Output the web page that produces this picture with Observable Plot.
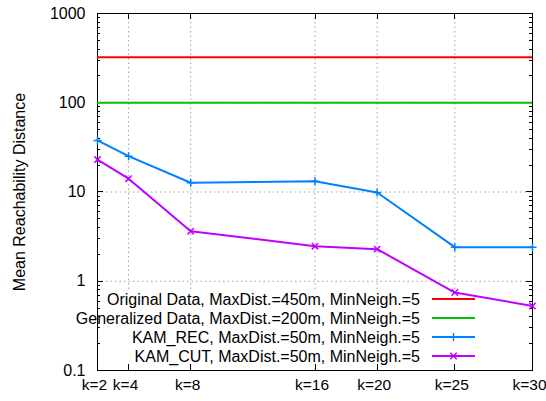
<!DOCTYPE html>
<html><head><meta charset="utf-8">
<script src="https://cdn.jsdelivr.net/npm/d3@7"></script>
<script src="https://cdn.jsdelivr.net/npm/@observablehq/plot@0.6"></script>
<style>body{margin:0;background:#fff}</style>
</head><body><div id="chart"></div>
<script>
const kValues = [2, 4, 8, 16, 20, 25, 30];
const kLabels = ["k=2", "k=4", "k=8", "k=16", "k=20", "k=25", "k=30"];
const originalValue = 324;
const generalizedValue = 100;
const kamRec = [37.8, 25.2, 12.7, 13.2, 9.87, 2.41, 2.41];
const kamCut = [23.1, 14.1, 3.64, 2.47, 2.29, 0.748, 0.528];
const yTicks = [0.1, 1, 10, 100, 1000];
const yTickLabels = ["0.1", "1", "10", "100", "1000"];
const yTitle = "Mean Reachability Distance";
const seriesNames = [
  "Original Data, MaxDist.=450m, MinNeigh.=5",
  "Generalized Data, MaxDist.=200m, MinNeigh.=5",
  "KAM_REC, MaxDist.=50m, MinNeigh.=5",
  "KAM_CUT, MaxDist.=50m, MinNeigh.=5"
];
const seriesColors = ["#ff0000", "#00c000", "#0080ff", "#c000ff"];
const seriesMarkers = [null, null, "plus", "times"];

const FONT = "'Liberation Sans', Arial, Helvetica, sans-serif";
const idx = d3.range(kValues.length);

const plusSymbol = {draw(ctx, size) { const r = Math.sqrt(size / Math.PI); ctx.moveTo(-r, 0); ctx.lineTo(r, 0); ctx.moveTo(0, -r); ctx.lineTo(0, r); }};
const timesSymbol = {draw(ctx, size) { const r = Math.sqrt(size / Math.PI) * 0.8; ctx.moveTo(-r, -r); ctx.lineTo(r, r); ctx.moveTo(-r, r); ctx.lineTo(r, -r); }};

function markerPath(g, type, cx, cy, color) {
  let d;
  if (type === "plus") { const r = 4; d = `M${cx - r},${cy}H${cx + r}M${cx},${cy - r}V${cy + r}`; }
  else { const r = 3.2; d = `M${cx - r},${cy - r}L${cx + r},${cy + r}M${cx - r},${cy + r}L${cx + r},${cy - r}`; }
  g.append("path").attr("d", d).attr("stroke", color).attr("stroke-width", 1.5).attr("fill", "none");
}

// Legend geometry (layout, not data)
const LEG = {textRight: 420, lineX1: 432, lineX2: 475, y0: 299, dy: 19, boxX: 70, boxY: 289, boxW: 409, boxH: 77};

function legendBox() {
  const g = d3.create("svg:g");
  g.append("rect").attr("x", LEG.boxX).attr("y", LEG.boxY).attr("width", LEG.boxW).attr("height", LEG.boxH).attr("fill", "#fff");
  return g.node();
}

function frameAndTicks(index, scales, values, dims) {
  const x = scales.x, y = scales.y;
  const L = dims.marginLeft, R = dims.width - dims.marginRight;
  const T = dims.marginTop, B = dims.height - dims.marginBottom;
  const g = d3.create("svg:g").attr("fill", "none").attr("stroke", "#000").attr("stroke-width", 1);
  const c = v => Math.round(v) + 0.5;
  let d = "";
  for (const t of yTicks) {
    const yy = c(y(t));
    d += `M${L},${yy}h6M${R},${yy}h-6`;
  }
  for (const dec of [0.1, 1, 10, 100]) {
    for (let m = 2; m <= 9; m++) {
      const yy = c(y(dec * m));
      d += `M${L},${yy}h3M${R},${yy}h-3`;
    }
  }
  for (const k of kValues) {
    const xx = c(x(k));
    d += `M${xx},${B}v-6M${xx},${T}v6`;
  }
  g.append("path").attr("d", d);
  g.append("rect").attr("x", c(L)).attr("y", c(T)).attr("width", Math.round(R - L)).attr("height", Math.round(B - T));
  return g.node();
}

function legendContent() {
  const g = d3.create("svg:g");
  seriesNames.forEach((name, i) => {
    const yy = LEG.y0 + i * LEG.dy;
    g.append("text").attr("x", LEG.textRight).attr("y", yy).attr("dy", "0.35em")
      .attr("text-anchor", "end").attr("font-family", FONT).attr("font-size", 16).attr("fill", "#000").text(name);
    g.append("line").attr("x1", LEG.lineX1).attr("x2", LEG.lineX2).attr("y1", yy).attr("y2", yy)
      .attr("stroke", seriesColors[i]).attr("stroke-width", 2);
    if (seriesMarkers[i]) markerPath(g, seriesMarkers[i], (LEG.lineX1 + LEG.lineX2) / 2, yy, seriesColors[i]);
  });
  return g.node();
}

const gridStyle = {stroke: "#a0a0a0", strokeOpacity: 1, strokeWidth: 1, strokeDasharray: "1.5,3"};

const chart = Plot.plot({
  width: 546,
  height: 401,
  marginLeft: 97,
  marginRight: 14,
  marginTop: 13,
  marginBottom: 31,
  style: {fontFamily: FONT, fontSize: "16px", background: "#fff", overflow: "visible"},
  x: {type: "linear", domain: [2, 30], axis: null},
  y: {type: "log", domain: [0.1, 1000], axis: null},
  marks: [
    Plot.gridX(kValues.slice(1, -1), gridStyle),
    Plot.gridY([1, 10, 100], gridStyle),
    legendBox,
    frameAndTicks,
    Plot.ruleY([originalValue], {stroke: seriesColors[0], strokeWidth: 2}),
    Plot.ruleY([generalizedValue], {stroke: seriesColors[1], strokeWidth: 2}),
    Plot.line(idx, {x: i => kValues[i], y: i => kamRec[i], stroke: seriesColors[2], strokeWidth: 2}),
    Plot.dot(idx, {x: i => kValues[i], y: i => kamRec[i], symbol: plusSymbol, r: 4, fill: "none", stroke: seriesColors[2], strokeWidth: 1.5}),
    Plot.line(idx, {x: i => kValues[i], y: i => kamCut[i], stroke: seriesColors[3], strokeWidth: 2}),
    Plot.dot(idx, {x: i => kValues[i], y: i => kamCut[i], symbol: timesSymbol, r: 4, fill: "none", stroke: seriesColors[3], strokeWidth: 1.5}),
    legendContent,
    Plot.text(idx, {x: i => kValues[i], text: i => kLabels[i], frameAnchor: "bottom", dy: 19, dx: -3, fontSize: 15.5, fill: "#000"}),
    Plot.text(yTicks, {y: d => d, text: (d, i) => yTickLabels[i], frameAnchor: "left", dx: -12, textAnchor: "end", fontSize: 16, fill: "#000"}),
    Plot.text([yTitle], {text: d => d, frameAnchor: "left", dx: -78, dy: 0, rotate: -90, textAnchor: "middle", fontSize: 16, fill: "#000"})
  ]
});
document.getElementById("chart").appendChild(chart);
</script>
</body></html>
